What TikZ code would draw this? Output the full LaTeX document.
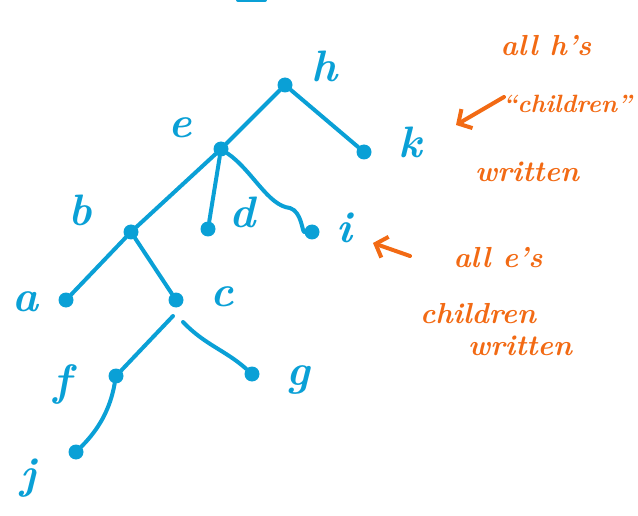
\documentclass[tikz,border=0pt]{standalone}
\usetikzlibrary{arrows.meta}
\definecolor{penblue}{HTML}{0AA0D6}
\definecolor{penorange}{HTML}{F26A14}
\tikzset{
  dot/.style={circle,fill=penblue,inner sep=0pt,minimum size=15pt},
  edge/.style={draw=penblue,line width=4pt,line cap=round,line join=round},
  lab/.style={text=penblue,font=\fontsize{44}{44}\selectfont\bfseries\itshape,inner sep=0pt},
  note/.style={text=penorange,font=\fontsize{29}{31}\selectfont\bfseries\itshape,inner sep=0pt},
  marrow/.style={draw=penorange,line width=4pt,line cap=round,-{Straight Barb[length=10pt,width=22pt,line width=4pt]}}
}
\begin{document}
\begin{tikzpicture}[x=1pt,y=-1pt]
\useasboundingbox (0,0) rectangle (638,516);
% dots
\node[dot] (h) at (285,85) {};
\node[dot] (k) at (364,152) {};
\node[dot] (e) at (221,149) {};
\node[dot] (b) at (131,232) {};
\node[dot] (d) at (208,229) {};
\node[dot] (i) at (312,232) {};
\node[dot] (a) at (66,300) {};
\node[dot] (c) at (176,300) {};
\node[dot] (f) at (116,376) {};
\node[dot] (g) at (252,374) {};
\node[dot] (j) at (76,452) {};
% labels
\node[lab] (lh) at (324,66) {h};
\node[lab] (lk) at (410,142) {k};
\node[lab] (le) at (180,128) {e};
\node[lab] (lb) at (80,210) {b};
\node[lab] (ld) at (243,212) {d};
\node[lab] (li) at (344,228) {i};
\node[lab] (la) at (26,302) {a};
\node[lab] (lc) at (222,297) {c};
\node[lab] (lf) at (62,384) {f};
\node[lab] (lg) at (298,380) {g};
\node[lab] (lj) at (28,478) {j};
% top fragment
\coordinate (t1) at (238,0);
\coordinate (t2) at (265,0);
\draw[edge] (t1) -- (t2);
% edges
\draw[edge] (h) -- (e);
\draw[edge] (h) -- (k);
\draw[edge] (e) -- (b);
\draw[edge] (e) -- (d);
\coordinate (ei) at (290,208);
\draw[edge] (e) .. controls (252,170) and (268,206) .. (ei) .. controls (302,212) and (302,232) .. (i);
\draw[edge] (b) -- (a);
\draw[edge] (b) -- (c);
\coordinate (cf) at (173,316);
\draw[edge] (cf) -- (f);
\coordinate (cg) at (183,322);
\draw[edge] (cg) .. controls (205,345) and (225,350) .. (g);
\draw[edge] (f) .. controls (110,410) and (98,430) .. (j);
% annotations
\coordinate (a1s) at (504,97);
\coordinate (a1e) at (456,125);
\draw[marrow] (a1s) -- (a1e);
\node[note] (n1) at (546,46) {all h's};
\node[note,font=\fontsize{25}{27}\selectfont\bfseries\itshape,anchor=east] (n2) at (632,104) {``children''};
\node[note] (n3) at (527,172) {written};
\coordinate (a2s) at (410,256);
\coordinate (a2e) at (373,243);
\draw[marrow] (a2s) -- (a2e);
\node[note] (n4) at (498,258) {all e's};
\node[note] (n5) at (478,314) {children};
\node[note] (n6) at (520,346) {written};
\end{tikzpicture}
\end{document}
